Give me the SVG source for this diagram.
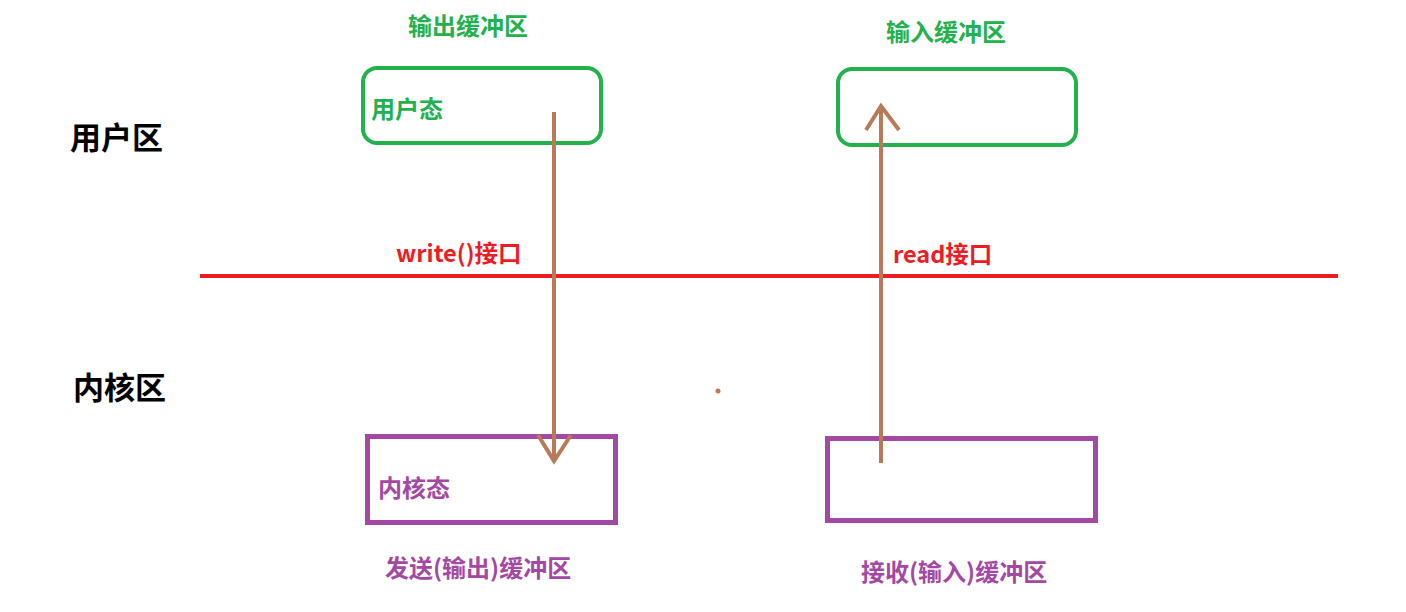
<svg xmlns="http://www.w3.org/2000/svg" width="1406" height="612" viewBox="0 0 1406 612">
<style>
text{font-family:"Noto Sans CJK SC","Liberation Sans",sans-serif;font-weight:bold}
.g{fill:#22b14c;font-size:24px}
.p{fill:#a349a4;font-size:24px}
.r{fill:#ed1c24;font-size:23.5px}
.k{fill:#000;font-size:31px}
.gb{fill:none;stroke:#22b14c;stroke-width:4}
.pb{fill:none;stroke:#a349a4;stroke-width:5}
.ar{fill:none;stroke:#b97a57;stroke-width:4;stroke-linecap:butt;stroke-linejoin:miter}
</style>
<rect width="1406" height="612" fill="#fff"/>
<g id="zone-user"><text class="k" x="70" y="149">用户区</text></g>
<g id="zone-kernel"><text class="k" x="73" y="399">内核区</text></g>
<g id="divider">
<line x1="200" y1="276" x2="1338" y2="276" stroke="#ed1c24" stroke-width="4"/>
</g>
<g id="out-buf">
<text class="g" x="408" y="35">输出缓冲区</text>
<rect class="gb" x="363" y="68" width="238" height="75" rx="14"/>
<text class="g" x="371" y="118">用户态</text>
</g>
<g id="in-buf">
<text class="g" x="886" y="41">输入缓冲区</text>
<rect class="gb" x="838" y="69" width="238" height="76" rx="14"/>
</g>
<g id="send-buf">
<rect class="pb" x="367.5" y="436.5" width="248" height="86"/>
<text class="p" x="378" y="497">内核态</text>
<text class="p" x="385" y="577">发送(输出)缓冲区</text>
</g>
<g id="recv-buf">
<rect class="pb" x="827.5" y="438.5" width="268" height="82"/>
<text class="p" x="861" y="581">接收(输入)缓冲区</text>
</g>
<g id="connectors">
<line class="ar" x1="554" y1="112" x2="554" y2="461"/>
<polyline class="ar" points="538,435 554,461 571,435"/>
<text class="r" x="396" y="262">write()接口</text>
<line class="ar" x1="881" y1="463" x2="881" y2="106"/>
<polyline class="ar" points="866,130 881,106 899,130"/>
<text class="r" x="893" y="263">read接口</text>
</g>
<circle cx="718" cy="391" r="2.5" fill="#b97a57"/>
</svg>
